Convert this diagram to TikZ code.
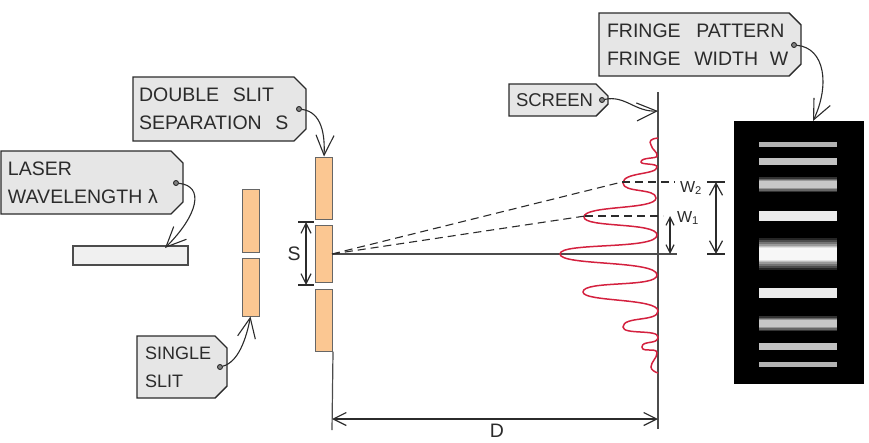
\documentclass[tikz,border=0pt]{standalone}
\usepackage{fontspec}
\setmainfont{Liberation Sans}
\usetikzlibrary{arrows.meta}
\usetikzlibrary{positioning}
\usetikzlibrary{shapes.misc}
\definecolor{tagfill}{HTML}{E6E6E6}
\definecolor{inktone}{HTML}{2B2B2B}
\definecolor{slitfill}{HTML}{FBC792}
\definecolor{curvered}{HTML}{D4213F}
\begin{document}
\begin{tikzpicture}[x=1pt,y=-1pt,line width=1.2pt,draw=inktone,text=inktone,
					font=\fontsize{19.5}{28}\selectfont]
					\tikzstyle{tagbox}=[draw=inktone,fill=tagfill,line width=1.4pt,chamfered rectangle,
					chamfered rectangle corners={north east,south east},chamfered rectangle xsep=6pt,
					chamfered rectangle ysep=6pt,align=left,inner sep=0pt]
					\tikzstyle{tagdot}=[circle,draw=inktone,fill=gray,line width=0.9pt,inner sep=0pt,minimum size=5pt]
					\tikzstyle{slit}=[rectangle,draw=black!60,fill=slitfill,line width=1pt,inner sep=0pt,minimum width=17pt]
					\tikzstyle{pointer}=[-{Straight Barb[length=20pt,width=18pt]},line width=1.1pt]
					\tikzstyle{guide}=[dashed,dash pattern=on 8pt off 5pt,line width=1.1pt]
					\useasboundingbox (0,0) rectangle (869,442);
					
					% tags
					\node[tagbox,minimum width=173pt,minimum height=64pt,text width=161pt] (tag_double) at (219.5,109) {DOUBLE\hspace{0.7em}SLIT\\SEPARATION\hspace{0.7em}S};
					\node[tagbox,minimum width=182pt,minimum height=63pt,text width=168pt] (tag_laser) at (92,182.5) {LASER\\WAVELENGTH\hspace{0.3em}λ};
					\node[tagbox,minimum width=99pt,minimum height=32pt,text width=85pt,font=\fontsize{18.5}{28}\selectfont] (tag_screen) at (558.5,100) {SCREEN};
					\node[tagbox,minimum width=202pt,minimum height=63pt,text width=186pt] (tag_fringe) at (700,44.5) {FRINGE\hspace{0.8em}PATTERN\\FRINGE\hspace{0.7em}WIDTH\hspace{0.6em}W};
					\node[tagbox,minimum width=90pt,minimum height=62pt,text width=74pt,font=\fontsize{18}{28}\selectfont] (tag_single) at (182,367) {SINGLE\\SLIT};
					
					\node[tagdot] (dot_double) at (299,109) {};
					\node[tagdot] (dot_laser) at (176,183) {};
					\node[tagdot] (dot_screen) at (602,100) {};
					\node[tagdot] (dot_fringe) at (794,45) {};
					\node[tagdot] (dot_single) at (220,367) {};
					
					% laser and slits
					\node[rectangle,draw=black!70,fill=black!6,inner sep=0pt,minimum width=115pt,minimum height=19pt] (laser) at (130.5,255.5) {};
					\node[slit,minimum height=63pt] (single_a) at (250.5,220.5) {};
					\node[slit,minimum height=58pt] (single_b) at (250.5,287) {};
					\node[slit,minimum height=62pt] (double_a) at (324,188) {};
					\node[slit,minimum height=57pt] (double_b) at (324,253.5) {};
					\node[slit,minimum height=62pt] (double_c) at (324,320) {};
					
					% fringe panel
					\node[rectangle,fill=black,inner sep=0pt,minimum width=130pt,minimum height=263pt] (panel) at (799,252.5) {};
					\foreach \ya/\yb/\tone in {142/147/30,158/165/24,211/221/8,288/298/8,343/350/24,362/367/30}
					{
						\fill[black!\tone] (759,\ya) rectangle (837,\yb);
					}
					\foreach \d/\tone in {0/80,1.5/60,3/40,4/22}
					{
						\fill[black!\tone] (759,177+\d) rectangle (837,192-\d);
						\fill[black!\tone] (759,316+\d) rectangle (837,331-\d);
					}
					\foreach \d/\tone in {0/85,2/70,4/55,6/40,8/25,9/12,10/3}
					{
						\fill[black!\tone] (759,238+\d) rectangle (837,270-\d);
					}
					
					% coordinates of the geometry
					\coordinate (src) at (332,254);
					\coordinate (axis_end) at (677,254);
					\coordinate (screen_top) at (658,92);
					\coordinate (screen_bot) at (658,429);
					\coordinate (screen_hit) at (658,111);
					\coordinate (panel_hit) at (813,121);
					\coordinate (peak_1) at (585,216);
					\coordinate (peak_2) at (622,182);
					\coordinate (end_1) at (663,216);
					\coordinate (end_2) at (675,182);
					\coordinate (mark_1) at (670,216);
					\coordinate (mark_2) at (716,182);
					\coordinate (base_1) at (670,254);
					\coordinate (base_2) at (716,254);
					\coordinate (s_top) at (306,222);
					\coordinate (s_bot) at (306,285);
					\coordinate (d_left) at (332,419);
					\coordinate (d_right) at (658,419);
					\coordinate (d_foot) at (332,430);
					
					% screen and axis
					\draw[draw=black!70,line width=1.5pt] (screen_top) -- (screen_bot);
					\draw[draw=black!70,line width=1.5pt] (src) -- (axis_end);
					\draw[draw=black!70,line width=1.2pt] (double_c.south east) -- (d_foot);
					
					% intensity curve
					\draw[draw=curvered,line width=1.5pt] (658,138) .. controls (650,139) and (649,141) .. (651,145)
					.. controls (652,150) and (658,152) .. (657,156)
					.. controls (657,159) and (641,157) .. (641,162)
					.. controls (641,165) and (657,163) .. (657,167)
					.. controls (657,175) and (623,172) .. (623,183)
					.. controls (623,193) and (656,188) .. (656,198)
					.. controls (656,210) and (584,205) .. (584,217)
					.. controls (584,228) and (657,222) .. (657,235)
					.. controls (657,250) and (560,242) .. (560,254)
					.. controls (560,266) and (657,260) .. (657,275)
					.. controls (657,288) and (583,280) .. (583,292)
					.. controls (583,302) and (658,298) .. (658,311)
					.. controls (658,322) and (623,316) .. (623,327)
					.. controls (623,335) and (658,329) .. (658,337)
					.. controls (658,345) and (642,340) .. (642,347)
					.. controls (642,353) and (657,347) .. (657,353)
					.. controls (657,358) and (651,362) .. (651,367)
					.. controls (651,370) and (655,372) .. (658,373);
					
					% dashed rays
					\draw[guide] (src) -- (peak_1);
					\draw[guide] (src) -- (peak_2);
					\draw[guide] (peak_1) -- (end_1);
					\draw[guide] (peak_2) -- (end_2);
					
					% dimensions
					\draw[{Straight Barb[length=8pt,width=8pt]}-{Straight Barb[length=8pt,width=8pt]}] (mark_1) -- (base_1);
					\draw[{Straight Barb[length=12pt,width=13pt]}-{Straight Barb[length=12pt,width=13pt]}] (mark_2) -- (base_2);
					\draw ([xshift=-9pt]mark_2) -- ([xshift=9pt]mark_2);
					\draw ([xshift=-9pt]base_2) -- ([xshift=9pt]base_2);
					\draw[{Straight Barb[length=10pt,width=10pt]}-{Straight Barb[length=10pt,width=10pt]}] (s_top) -- (s_bot);
					\draw ([xshift=-8pt]s_top) -- ([xshift=8pt]s_top);
					\draw ([xshift=-8pt]s_bot) -- ([xshift=8pt]s_bot);
					\draw[{Straight Barb[length=13pt,width=13pt]}-{Straight Barb[length=13pt,width=13pt]}] (d_left) -- (d_right);
					
					\node (lbl_s) at (294,254) {S};
					\node (lbl_d) at (497,431) {D};
					\node[font=\fontsize{16}{18}\selectfont] (lbl_w1) at (688,218) {W\textsubscript{1}};
					\node[font=\fontsize{16}{18}\selectfont] (lbl_w2) at (691,188) {W\textsubscript{2}};
					
					% pointers
					\draw[pointer] (dot_double) .. controls (322,112) and (325,135) .. (double_a.north);
					\draw[pointer] (dot_laser) .. controls (205,186) and (198,215) .. (165,248);
					\draw[pointer] (dot_screen) .. controls (625,95) and (635,112) .. (screen_hit);
					\draw[pointer] (dot_fringe) .. controls (825,48) and (830,85) .. (panel_hit);
					\draw[pointer] (dot_single) .. controls (238,362) and (246,340) .. (single_b.south);
					\end{tikzpicture}
\end{document}
